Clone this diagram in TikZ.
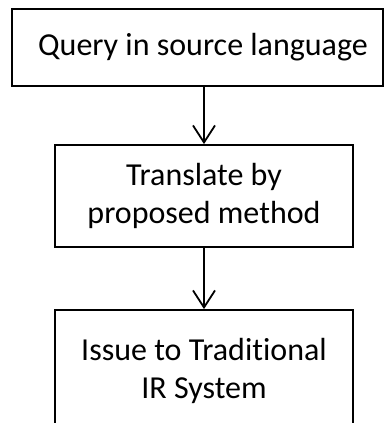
\documentclass[tikz,border=0pt]{standalone}
\usepackage{fontspec}
\setmainfont{Carlito}[Ligatures=NoCommon]
\usetikzlibrary{arrows.meta}

\tikzset{
  stagebox/.style={draw=black, line width=1.8pt, rectangle, align=center,
    inner sep=0pt, font=\fontsize{32}{38}\selectfont},
  flowarrow/.style={draw=black, line width=1.8pt,
    -{Straight Barb[length=17pt, width=22pt, line width=1.8pt]}}
}

\begin{document}
\begin{tikzpicture}[x=1pt, y=-1pt]
  \clip (0,0) rectangle (385,423);
  \fill[white] (0,0) rectangle (385,423);

  % three processing stages, top to bottom
  \node[stagebox, minimum width=371pt, minimum height=77pt] (query) at (197.5,47.5)
    {\hspace*{11pt}Query in source language};
  \node[stagebox, minimum width=298pt, minimum height=102pt] (translate) at (204,196)
    {Translate by\\proposed method};
  \node[stagebox, minimum width=298pt, minimum height=122pt] (issue) at (204,371)
    {Issue to Traditional\\IR System};

  % flow between the stages
  \draw[flowarrow] (query.south -| translate.north) -- (translate.north);
  \draw[flowarrow] (translate.south) -- (issue.north);
\end{tikzpicture}
\end{document}
